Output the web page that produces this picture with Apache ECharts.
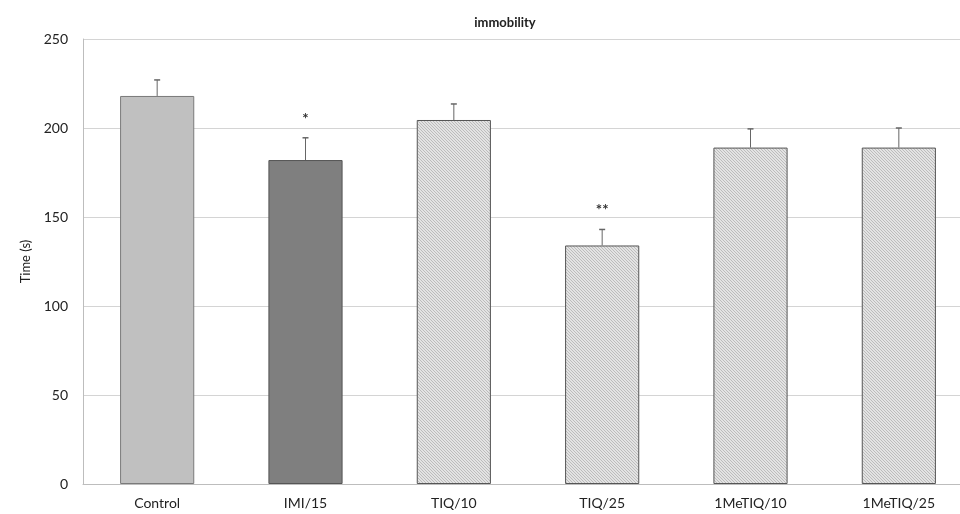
<!DOCTYPE html>
<html>
<head>
<meta charset="utf-8">
<style>html,body{margin:0;padding:0;background:#fff;overflow:hidden;width:960px;height:514px}#c{width:973px;height:514px}</style>
<script src="https://cdn.jsdelivr.net/npm/echarts@6/dist/echarts.min.js"></script>
</head>
<body>
<div id="c"></div>
<script>
var categories = ['Control', 'IMI/15', 'TIQ/10', 'TIQ/25', '1MeTIQ/10', '1MeTIQ/25'];
var means = [218, 182, 204.5, 134, 189, 189];
var errors = [9, 12.5, 9, 9, 10.5, 11];
var marks = ['', '*', '', '**', '', ''];
var yTicks = [0, 50, 100, 150, 200, 250];

function hatch() {
  var c = document.createElement('canvas');
  c.width = 3; c.height = 3;
  var g = c.getContext('2d');
  g.fillStyle = '#e3e3e3';
  g.fillRect(0, 0, 3, 3);
  g.strokeStyle = '#aaaaaa';
  g.lineWidth = 0.7;
  g.beginPath();
  g.moveTo(-1, -1); g.lineTo(4, 4);
  g.moveTo(-1, 2); g.lineTo(1, 4);
  g.moveTo(2, -1); g.lineTo(4, 1);
  g.stroke();
  return { image: c, repeat: 'repeat' };
}
var pat = hatch();
var fills = ['#c0c0c0', '#7f7f7f', pat, pat, pat, pat];
var borders = ['#7a7a7a', '#555555', '#555555', '#555555', '#555555', '#555555'];

var chart = echarts.init(document.getElementById('c'));
var font = 'Lato, "Open Sans", sans-serif';
chart.setOption({
  animation: false,
  title: {
    text: 'immobility', left: 500, top: 11, textAlign: 'center',
    textStyle: { fontFamily: font, fontSize: 13, fontWeight: 'bold', color: '#222' }
  },
  grid: { left: 83, top: 39, bottom: 30, right: 0 },
  xAxis: {
    type: 'category', data: categories,
    axisLine: { lineStyle: { color: '#bdbdbd' } },
    axisTick: { show: false },
    axisLabel: { fontFamily: font, fontSize: 14, color: '#222', margin: 12 }
  },
  yAxis: {
    type: 'value', min: 0, max: 250, interval: 50,
    name: 'Time (s)', nameLocation: 'middle', nameGap: 39, nameRotate: 90,
    nameTextStyle: { fontFamily: font, fontSize: 13, color: '#222' },
    axisLine: { show: true, lineStyle: { color: '#bdbdbd' } },
    axisTick: { show: false },
    axisLabel: { fontFamily: font, fontSize: 14, color: '#222', margin: 15,
      formatter: function (v) { return yTicks.indexOf(v) >= 0 ? String(v) : ''; } },
    splitLine: { lineStyle: { color: '#d4d4d4' } }
  },
  series: [
    {
      type: 'bar', barWidth: '50%',
      data: means.map(function (v, i) {
        return { value: v, itemStyle: { color: fills[i], borderColor: borders[i], borderWidth: 1 } };
      })
    },
    {
      type: 'custom',
      data: means.map(function (v, i) { return [i, v, v + errors[i]]; }),
      renderItem: function (params, api) {
        var i = api.value(0);
        var p0 = api.coord([i, api.value(1)]);
        var p1 = api.coord([i, api.value(2)]);
        var children = [
          { type: 'line', shape: { x1: p0[0], y1: p0[1], x2: p1[0], y2: p1[1] }, style: { stroke: '#666', lineWidth: 1 } },
          { type: 'line', shape: { x1: p1[0] - 3, y1: p1[1], x2: p1[0] + 3, y2: p1[1] }, style: { stroke: '#666', lineWidth: 1.5 } }
        ];
        var m = marks[params.dataIndex];
        if (m) {
          children.push({ type: 'text', x: p1[0], y: p1[1] - 19,
            style: { text: m, fill: '#333', font: 'bold 15px ' + font, align: 'center', verticalAlign: 'middle' } });
        }
        return { type: 'group', children: children };
      },
      z: 5
    }
  ]
});
</script>
</body>
</html>
